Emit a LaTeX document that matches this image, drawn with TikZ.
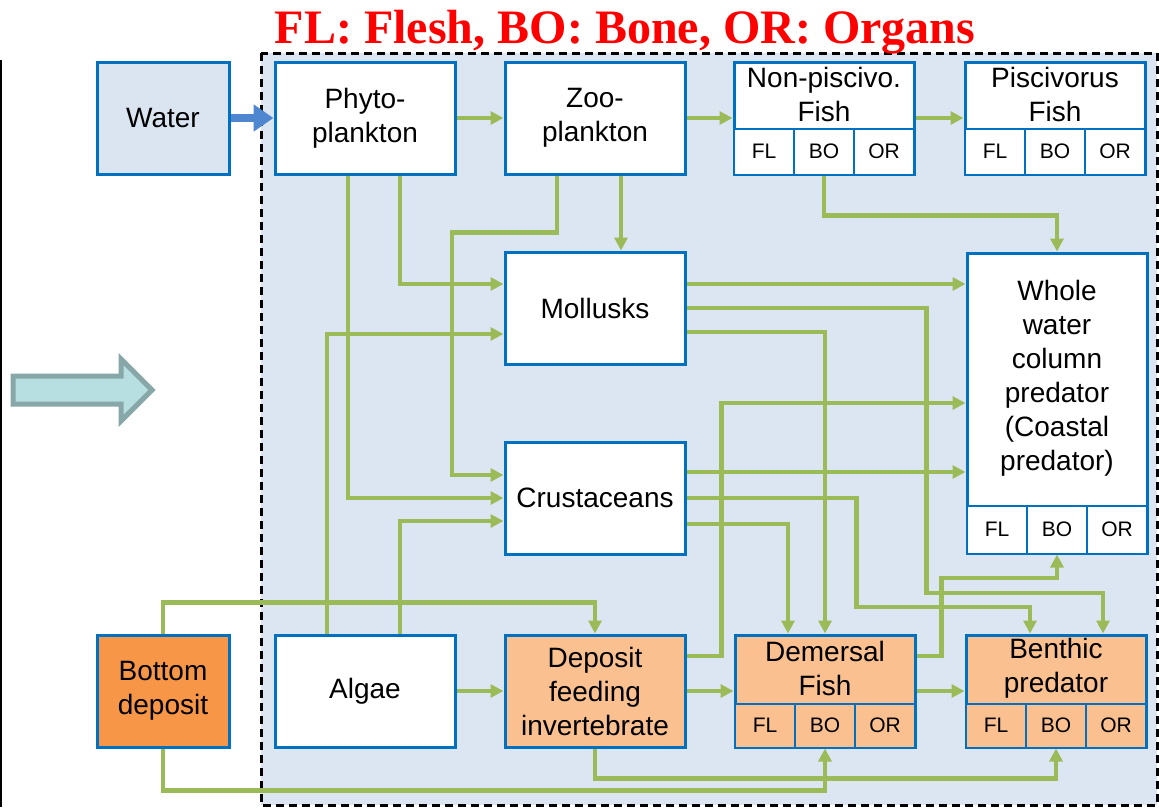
\documentclass[tikz,border=0pt]{standalone}
\usepackage{fontspec}
\setmainfont{Liberation Sans}
\newfontfamily\titlefont{Liberation Serif}
\usepackage{tikz}
\usetikzlibrary{arrows.meta,calc,positioning}
\definecolor{boxblue}{HTML}{0070C0}
\definecolor{panelblue}{HTML}{DCE6F2}
\definecolor{waterfill}{HTML}{DBE5F1}
\definecolor{foodgreen}{HTML}{9BBB59}
\definecolor{waterarr}{HTML}{4E86D0}
\definecolor{orgl}{HTML}{FAC090}
\definecolor{orgd}{HTML}{F79646}
\definecolor{tealfill}{HTML}{B7DEE1}
\definecolor{tealline}{HTML}{87A7A8}

\begin{document}
\begin{tikzpicture}[x=1pt, y=-1pt,
    box/.style={draw=boxblue, line width=3pt, fill=white, minimum width=180pt,
      minimum height=112pt, inner sep=0pt, align=center, font=\fontsize{28}{34}\selectfont},
    cell/.style={draw=boxblue, line width=2pt, minimum width=60pt, inner sep=0pt,
      font=\fontsize{21}{24}\selectfont},
    title/.style={text=red, inner sep=0pt, font=\titlefont\bfseries\fontsize{48}{52}\selectfont},
    panel/.style={draw=black, dash pattern=on 8pt off 5pt, line width=3pt, fill=panelblue},
    arr/.style={-{Triangle[length=13pt,width=13pt]}, line width=4.5pt, draw=foodgreen},
    warr/.style={-{Triangle[length=20pt,width=26pt]}, line width=8pt, draw=waterarr},
    bigarr/.style={draw=tealline, fill=tealfill, line width=5pt}]
\useasboundingbox (0,0) rectangle (1159,807);
\draw[panel] (261,53) rectangle (1157,805);
\draw[line width=2.5pt] (1,60) -- (1,807);
\draw[bigarr] (13,376) -- (121,376) -- (121,359) -- (152,390) -- (121,421)
  -- (121,404) -- (13,404) -- cycle;
\node[title, anchor=base] (ttl) at (625,43) {FL: Flesh, BO: Bone, OR: Organs};

% plain boxes
\node[box, fill=waterfill, minimum width=132pt] (water) at (163,118) {Water};
\node[box] (phyto) at (365,118) {Phyto-\\plankton};
\node[box] (zoo) at (595,118) {Zoo-\\plankton};
\node[box] (mol) at (595,308) {Mollusks};
\node[box] (crus) at (595,498) {Crustaceans};
\node[box] (algae) at (365,691) {Algae};
\node[box, fill=orgl] (dfi) at (595,691) {Deposit\\feeding\\invertebrate};
\node[box, fill=orgd, minimum width=132pt] (bd) at (163,691) {Bottom\\deposit};

% boxes split into FL / BO / OR
\foreach \n/\cx/\cy/\h/\ch/\fc/\lab in {
    npf/824/118/112pt/46pt/white/{Non-piscivo.\\Fish},
    pf/1055/118/112pt/46pt/white/{Piscivorus\\Fish},
    wcp/1057/403/300pt/48pt/white/{Whole\\water\\column\\predator\\(Coastal\\predator)},
    dem/825/691/112pt/44pt/orgl/{Demersal\\Fish},
    ben/1056/691/112pt/44pt/orgl/{Benthic\\predator}} {
  \node[box, fill=\fc, minimum height=\h] (\n) at (\cx,\cy) {};
  \foreach \c/\t [count=\k from -1] in {fl/FL,bo/BO,or/OR}
    \node[cell, fill=\fc, minimum height=\ch, anchor=south] (\n-\c) at ([xshift=\k*60pt]\n.south) {\t};
  \node[align=center, inner sep=0pt, font=\fontsize{28}{34}\selectfont] (\n-t)
    at ($(\n.north)!0.5!(\n-bo.north)$) {\lab};
}

% food links
\draw[warr] (water) -- (phyto);
\draw[arr] (phyto) -- (zoo);
\draw[arr] (zoo) -- (npf);
\draw[arr] (npf) -- (pf);
\draw[arr] (npf-bo.south) -- ++(0,40) -| (wcp.north);
\draw[arr] ([xshift=26pt]zoo.south) -- ([xshift=26pt]mol.north);
\draw[arr] ([xshift=-38pt]zoo.south) -- ++(0,57) -- ++(-105,0) |- ([yshift=23pt]crus.west);
\draw[arr] ([xshift=35pt]phyto.south) |- ([yshift=24pt]mol.west);
\draw[arr] ([xshift=-17pt]phyto.south) |- (crus.west);
\draw[arr] ([xshift=-38pt]algae.north) |- ([yshift=-26pt]mol.west);
\draw[arr] ([xshift=35pt]algae.north) |- ([yshift=-23pt]crus.west);
\draw[arr] (bd.north) -- ++(0,-31) -| (dfi.north);
\draw[arr] (bd.south) -- ++(0,42) -| (dem-bo.south);
\draw[arr] (algae) -- (dfi);
\draw[arr] (dfi) -- (dem);
\draw[arr] (dem) -- (ben);
\draw[arr] ([yshift=35pt]dfi.east) -- ++(35,0) |- (wcp.west);
\draw[arr] ([yshift=24pt]mol.east) -- ([yshift=119pt]wcp.west);
\draw[arr] (mol.east) -- ++(240,0) -- ++(0,285) -| ([xshift=47pt]ben.north);
\draw[arr] ([yshift=-24pt]mol.east) -| (dem.north);
\draw[arr] ([yshift=26pt]crus.east) -- ([yshift=-69pt]wcp.west);
\draw[arr] (crus.east) -- ++(170,0) -- ++(0,109) -| ([xshift=-26pt]ben.north);
\draw[arr] ([yshift=-26pt]crus.east) -| ([xshift=-37pt]dem.north);
\draw[arr] ([yshift=35pt]dem.east) -- ++(25,0) -- ++(0,-78) -| (wcp-bo.south);
\draw[arr] (dfi.south) -- ++(0,30) -| (ben-bo.south);
\end{tikzpicture}
\end{document}
